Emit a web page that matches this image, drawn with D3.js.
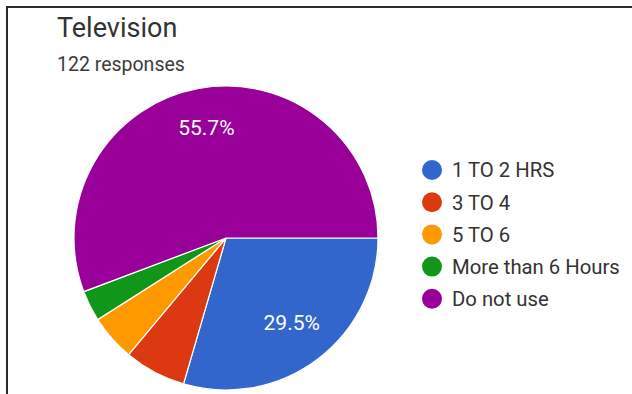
<!DOCTYPE html>
<html>
<head>
<meta charset="utf-8">
<script src="https://cdn.jsdelivr.net/npm/d3@7/dist/d3.min.js"></script>
<style>
  html, body { margin: 0; padding: 0; background: #fff; }
  svg { display: block; }
  text { font-family: Roboto, "Noto Sans", Arial, sans-serif; }
</style>
</head>
<body>
<svg id="chart" width="632" height="394"></svg>
<script>
// Survey answers: hours spent watching television
const categories = ["1 TO 2 HRS", "3 TO 4", "5 TO 6", "More than 6 Hours", "Do not use"];
const counts = [36, 8, 6, 4, 68];
const colors = ["#3366cc", "#dc3912", "#ff9900", "#109618", "#990099"];
const title = "Television";
const totalResponses = 122;

const svg = d3.select("#chart");
const W = 632, H = 394;

// Frame lines along the top and left edges
svg.append("line").attr("x1", 7).attr("y1", 7).attr("x2", W).attr("y2", 7)
  .attr("stroke", "#2b2b2b").attr("stroke-width", 2);
svg.append("line").attr("x1", 7).attr("y1", 6).attr("x2", 7).attr("y2", H)
  .attr("stroke", "#2b2b2b").attr("stroke-width", 2);

// Heading
svg.append("text").attr("x", 57).attr("y", 37)
  .attr("font-size", 27).attr("fill", "#333")
  .text(title);
svg.append("text").attr("x", 57).attr("y", 71)
  .attr("font-size", 19.5).attr("fill", "#3c3c3c")
  .text(`${totalResponses} responses`);

// Pie
const cx = 226, cy = 238, r = 152;
const data = categories.map((c, i) => ({ cat: c, value: counts[i], color: colors[i] }));
const total = d3.sum(counts);

const pie = d3.pie().value(d => d.value).sort(null)
  .startAngle(Math.PI / 2).endAngle(Math.PI / 2 + 2 * Math.PI);
const arc = d3.arc().innerRadius(0).outerRadius(r);
const labelArc = d3.arc().innerRadius(r * 0.72).outerRadius(r * 0.72);

const g = svg.append("g").attr("transform", `translate(${cx},${cy})`);
const slices = pie(data);

g.selectAll("path").data(slices).join("path")
  .attr("d", arc)
  .attr("fill", d => d.data.color)
  .attr("stroke", "#fff")
  .attr("stroke-width", 1.2);

const fmt = v => (v / total * 100).toFixed(1) + "%";
g.selectAll("text.pct").data(slices.filter(d => d.data.value / total >= 0.1)).join("text")
  .attr("class", "pct")
  .attr("transform", d => `translate(${labelArc.centroid(d)})`)
  .attr("text-anchor", "middle")
  .attr("dy", "0.22em")
  .attr("font-size", 21)
  .attr("fill", "#fff")
  .text(d => fmt(d.data.value));

// Legend
const legend = svg.append("g").attr("transform", "translate(432,170)");
const rowGap = 32.2;
const rows = legend.selectAll("g").data(data).join("g")
  .attr("transform", (d, i) => `translate(0,${i * rowGap})`);
rows.append("circle").attr("r", 10).attr("fill", d => d.color);
rows.append("text").attr("x", 20).attr("dy", "0.36em")
  .attr("font-size", 20.3).attr("fill", "#333")
  .text(d => d.cat);
</script>
</body>
</html>
